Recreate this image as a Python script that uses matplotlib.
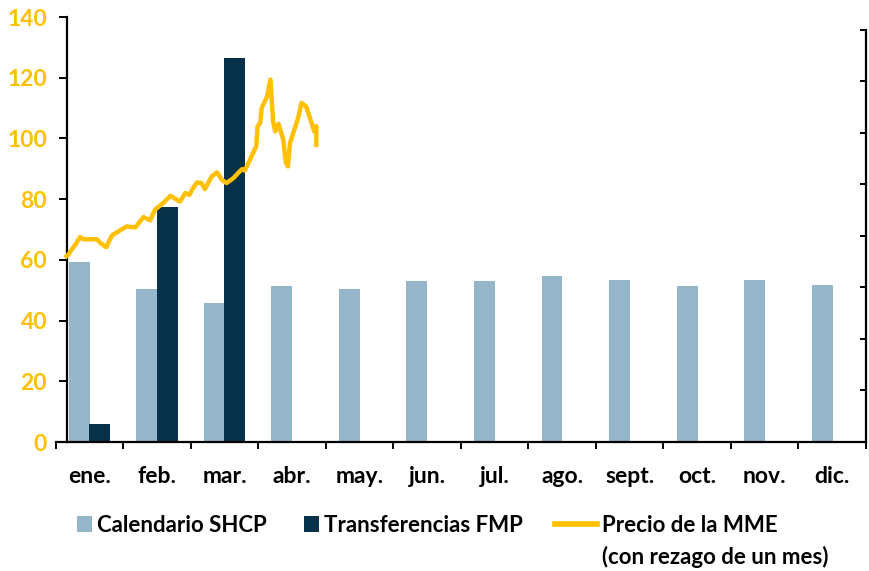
import numpy as np
import matplotlib.pyplot as plt
import matplotlib.patches as mpatches
from matplotlib.legend_handler import HandlerPatch

# categories and series
meses = ["ene.", "feb.", "mar.", "abr.", "may.", "jun.", "jul.", "ago.",
         "sept.", "oct.", "nov.", "dic."]
calendario_shcp = [59.3, 50.4, 45.8, 51.3, 50.3, 53.1, 53.0, 54.7, 53.4, 51.4, 53.4, 51.8]
transferencias_fmp = [5.8, 77.3, 126.5]

# MME price (one month lag), time in months since 1 Jan
mme_t = [0.16, 0.19, 0.24, 0.30, 0.36, 0.41, 0.61, 0.66, 0.75, 0.80, 0.84,
         1.05, 1.18, 1.30, 1.40, 1.47, 1.59, 1.70, 1.84, 1.92, 1.98, 2.02,
         2.09, 2.16, 2.21, 2.31, 2.39, 2.46, 2.53, 2.63, 2.71, 2.76, 2.80,
         2.97, 2.99, 3.03, 3.05, 3.13, 3.18, 3.22, 3.25, 3.30, 3.37, 3.41,
         3.44, 3.47, 3.59, 3.64, 3.71, 3.83, 3.86, 3.86]
mme_precio = [61.2, 61.8, 63.5, 65.3, 67.5, 66.8, 66.8, 65.6, 64.2, 66.6, 68.2,
              71.0, 70.7, 74.1, 73.0, 76.5, 78.7, 81.1, 79.2, 82.0, 81.4, 83.1,
              85.5, 85.3, 83.3, 87.5, 88.8, 86.4, 85.3, 86.9, 88.8, 89.9, 89.4,
              97.4, 104.0, 105.1, 110.0, 113.8, 119.4, 105.6, 102.3, 104.8, 99.6, 91.9,
              90.8, 98.5, 106.7, 111.7, 110.5, 102.3, 104.0, 97.9]

c_light = "#95B5CB"
c_dark = "#073149"
c_gold = "#FFC000"

plt.rcParams['font.family'] = ['Lato', 'DejaVu Sans']
plt.rcParams['font.weight'] = 'bold'

fig = plt.figure(figsize=(8.7, 5.71), dpi=100)
ax = fig.add_axes([0.064, 0.2259, 0.9314, 0.7443])

x = np.arange(12) + 0.5
w = 0.31
b1 = ax.bar(x - 0.15, calendario_shcp, width=w, color=c_light, zorder=2)
b2 = ax.bar(x[:3] + 0.15, transferencias_fmp, width=w, color=c_dark, zorder=2)
ln, = ax.plot(mme_t, mme_precio, color=c_gold, lw=3.2, solid_joinstyle='round', zorder=3)

ax.set_xlim(0, 12)
ax.set_ylim(0, 140)

# spines
for s in ['top', 'right']:
    ax.spines[s].set_visible(False)
ax.spines['left'].set_position(('data', 0.163))
ax.spines['left'].set_linewidth(1.6)
ax.spines['bottom'].set_linewidth(1.6)

ax.set_yticks(np.arange(0, 141, 20))
ax.tick_params(axis='y', direction='out', length=6, width=1.4, colors='black',
               labelcolor=c_gold, labelsize=16.5, pad=8)
ax.set_xticks(np.arange(13))
ax.set_xticklabels([])
ax.set_xticks(x, minor=True)
ax.set_xticklabels(meses, minor=True)
ax.tick_params(axis='x', which='major', direction='out', length=5, width=1.4)
ax.tick_params(axis='x', which='minor', length=0, labelsize=16.5, pad=17)

# secondary axis (no labels)
ax2 = ax.twinx()
ax2.set_ylim(0, 140)
for s in ['top', 'left', 'bottom']:
    ax2.spines[s].set_visible(False)
top2 = 135.8
ax2.spines['right'].set_bounds(0, top2)
ax2.spines['right'].set_linewidth(1.6)
ax2.set_yticks(np.linspace(0, top2, 9))
ax2.set_yticklabels([])
ax2.tick_params(axis='y', direction='in', length=4, width=1.4)


# square patch at the right end of the handle box
def square(legend, orig_handle, xdescent, ydescent, width, height, fontsize):
    return mpatches.Rectangle((width - height - xdescent, -ydescent), height, height)


items = [(b1[0], "Calendario SHCP"), (b2[0], "Transferencias FMP"), (ln, "Precio de la MME")]
leg_x = [50, 277, 555]
legs = []
for (hd, lb), xp in zip(items, leg_x):
    lg = fig.legend([hd], [lb], loc='center left', bbox_to_anchor=(xp / 870, 1 - 525 / 571),
                    frameon=False, fontsize=16, handlelength=1.9, handleheight=0.7,
                    handletextpad=0.2, borderpad=0, borderaxespad=0,
                    handler_map={mpatches.Rectangle: HandlerPatch(patch_func=square)})
    legs.append(lg)
legs[2].legend_handles[0].set_linewidth(4)

fig.canvas.draw()
bb = legs[2].get_texts()[0].get_window_extent()
x0, _ = fig.transFigure.inverted().transform((bb.x0, bb.y0))
fig.text(x0, 1 - 557 / 571, "(con rezago de un mes)", fontsize=16, va='center', ha='left')

fig.savefig("out.png", dpi=100)
